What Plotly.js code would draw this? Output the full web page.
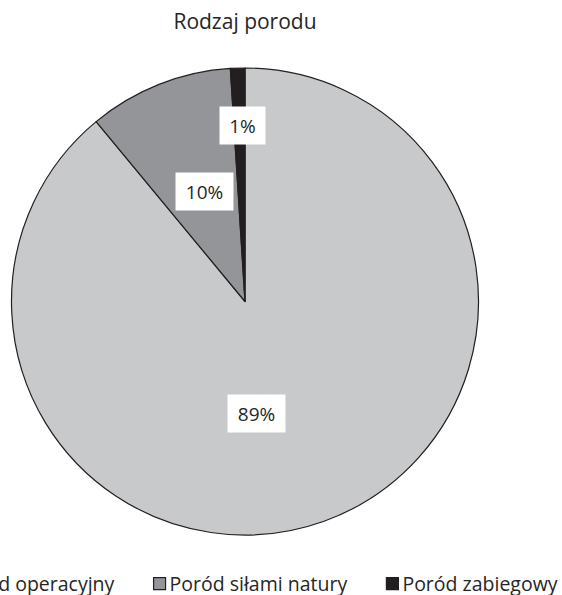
<!DOCTYPE html>
<html>
<head>
<meta charset="utf-8">
<script src="https://cdn.plot.ly/plotly-3.0.1.min.js"></script>
<style>
  html, body { margin: 0; padding: 0; background: #ffffff; overflow: hidden; width: 562px; height: 595px; }
  #chart { position: absolute; left: -100px; top: 0; width: 662px; height: 595px; }
</style>
</head>
<body>
<div id="chart"></div>
<script>
// ---- data ----
const categories = ["Poród operacyjny", "Poród siłami natury", "Poród zabiegowy"];
const values = [89, 10, 1];
const valueLabels = ["89%", "10%", "1%"];
const chartTitle = "Rodzaj porodu";

// ---- styling / layout config ----
const colors = ["#c8c9cb", "#939598", "#231f20"];
const W = 662, H = 595;
const domain = { x: [0.16843, 0.87387], y: [0.10084, 0.88571] };
const labelRadius = [0.484, 0.502, 0.754];   // fraction of pie radius
const labelAngleShift = [14, 1.4, 1];          // degrees, clockwise
const labelBox = [[55, 35], [55, 35], [43, 35]];
const FONT = "Open Sans";
const TEXT = "#262626";
const legendSymbolShift = 15; // px, brings the legend squares next to their text

// label positions derived from the data through the pie geometry
const total = values.reduce((a, b) => a + b, 0);
const cx = (domain.x[0] + domain.x[1]) / 2 * W;
const cy = (1 - (domain.y[0] + domain.y[1]) / 2) * H;
const R = Math.min(W * (domain.x[1] - domain.x[0]), H * (domain.y[1] - domain.y[0])) / 2;
let cum = 0;
const annotations = values.map((v, i) => {
  const mid = (cum + v / 2) / total * 360 + labelAngleShift[i];
  cum += v;
  const a = mid * Math.PI / 180;
  const px = cx + Math.sin(a) * R * labelRadius[i];
  const py = cy - Math.cos(a) * R * labelRadius[i];
  return {
    text: valueLabels[i],
    xref: "paper", yref: "paper",
    x: px / W, y: 1 - py / H,
    xanchor: "center", yanchor: "middle",
    showarrow: false,
    bgcolor: "#ffffff",
    width: labelBox[i][0], height: labelBox[i][1],
    font: { family: FONT, size: 19, color: TEXT }
  };
});

const trace = {
  type: "pie",
  labels: categories,
  values: values,
  sort: false,
  direction: "clockwise",
  rotation: 0,
  textinfo: "none",
  hoverinfo: "label+percent",
  marker: { colors: colors, line: { color: "#231f20", width: 1.2 } },
  domain: domain
};

const layout = {
  width: W, height: H,
  margin: { l: 0, r: 0, t: 0, b: 0, autoexpand: false },
  paper_bgcolor: "#ffffff",
  title: {
    text: chartTitle,
    font: { family: FONT, size: 21, color: TEXT },
    xref: "paper", x: cx / W, xanchor: "center",
    yref: "container", y: 1 - 22 / H, yanchor: "middle"
  },
  showlegend: true,
  legend: {
    orientation: "h",
    xref: "paper", yref: "paper",
    x: 5 / W, xanchor: "left",
    y: 1 - 584 / H, yanchor: "middle",
    itemwidth: 40,
    font: { family: FONT, size: 19.5, color: TEXT },
    traceorder: "normal"
  },
  annotations: annotations
};

Plotly.newPlot("chart", [trace], layout, { displayModeBar: false, staticPlot: true }).then(gd => {
  gd.querySelectorAll("g.legendpoints").forEach(g => {
    const t = g.getAttribute("transform") || "";
    g.setAttribute("transform", "translate(" + legendSymbolShift + ",0) " + t);
  });
});
</script>
</body>
</html>
